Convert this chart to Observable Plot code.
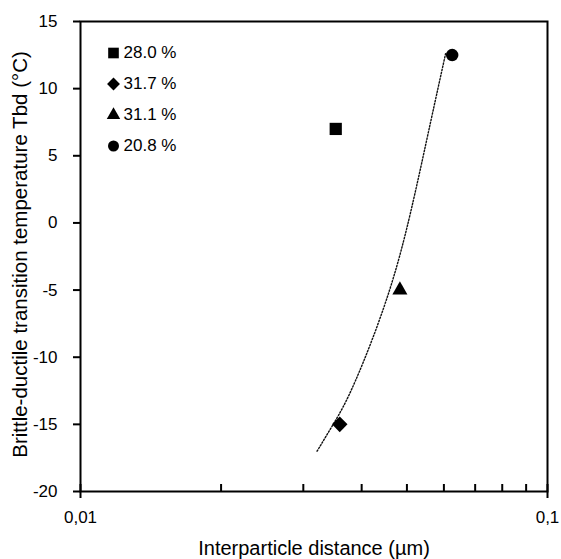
<!DOCTYPE html>
<html>
<head>
<meta charset="utf-8">
<script src="https://cdn.jsdelivr.net/npm/d3@7"></script>
<script src="https://cdn.jsdelivr.net/npm/@observablehq/plot@0.6"></script>
<style>
  html, body { margin: 0; padding: 0; background: white; }
</style>
</head>
<body>
<div id="chart"></div>
<script>
// ---- data ----
const seriesLabels = ["28.0 %", "31.7 %", "31.1 %", "20.8 %"];
const seriesSymbols = ["square", "diamond2", "triangle", "circle"];
const pointX = [0.0352, 0.0359, 0.0483, 0.0625];   // interparticle distance (µm)
const pointY = [7, -15, -5, 12.5];                 // Tbd (°C)

const curveX = [0.0321, 0.0349, 0.0388, 0.0459, 0.0516, 0.0555, 0.0605];
const curveY = [-17.0, -14.9, -11.75, -5.0, 1.66, 6.65, 12.6];

const yTicks = [-20, -15, -10, -5, 0, 5, 10, 15];
const xMajorTicks = [0.01, 0.1];
const xMajorLabels = ["0,01", "0,1"];
const xMinorTicks = [0.02, 0.03, 0.04, 0.05, 0.06, 0.07, 0.08, 0.09];

const xTitle = "Interparticle distance (µm)";
const yTitle = "Brittle-ductile transition temperature Tbd (°C)";

// ---- layout ----
const W = 561, H = 559;
const mL = 80, mR = 14, mT = 21, mB = 68;
const frameH = H - mT - mB;

const points = pointX.map((x, i) => ({x, y: pointY[i], symbol: seriesSymbols[i], label: seriesLabels[i]}));
const curve = curveX.map((x, i) => ({x, y: curveY[i]}));

// symbol radii (plot markers vs legend markers)
const plotR = {square: 6.9, diamond2: 7.0, triangle: 5.6, circle: 6.25};
const legR = {square: 6.0, diamond2: 5.8, triangle: 5.0, circle: 5.5};

const marks = [
  Plot.frame({stroke: "black", strokeWidth: 2}),
  Plot.line(curve, {x: "x", y: "y", curve: "natural", stroke: "#111", strokeWidth: 1.4, strokeDasharray: "1.4,1.8"}),
  // x minor ticks (inward)
  Plot.tickX(xMinorTicks, {x: d => d, insetTop: frameH - 7, stroke: "black", strokeWidth: 2}),
  Plot.axisX(xMajorTicks, {
    tickSize: 7, tickPadding: 12, strokeWidth: 2, fontSize: 17,
    tickFormat: d => xMajorLabels[xMajorTicks.indexOf(d)], label: null
  }),
  Plot.tickX(xMajorTicks, {x: d => d, insetTop: frameH - 7, stroke: "black", strokeWidth: 2}),
  Plot.axisY(yTicks, {
    tickSize: 7, tickPadding: 16, strokeWidth: 2, fontSize: 17,
    tickFormat: d => String(d), label: null
  }),
  Plot.text([xTitle], {frameAnchor: "bottom", dy: 57, fontSize: 20, lineAnchor: "middle", textAnchor: "middle", fill: "black"}),
  Plot.text([yTitle], {frameAnchor: "left", rotate: -90, dx: -60, dy: -2, fontSize: 20.5, lineAnchor: "middle", textAnchor: "middle", fill: "black"})
];

points.forEach((p, i) => {
  marks.push(Plot.dot([p], {x: "x", y: "y", symbol: () => p.symbol, r: plotR[p.symbol], fill: "black", stroke: "none"}));
  // legend entry
  marks.push(Plot.dot([p], {frameAnchor: "top-left", dx: 33, dy: 31.5 + 31 * i, symbol: () => p.symbol, r: legR[p.symbol], fill: "black", stroke: "none"}));
  marks.push(Plot.text([p], {frameAnchor: "top-left", dx: 43, dy: 31.5 + 31 * i, text: "label", textAnchor: "start", lineAnchor: "middle", fontSize: 17, fill: "black"}));
});

const chart = Plot.plot({
  width: W, height: H,
  marginLeft: mL, marginRight: mR, marginTop: mT, marginBottom: mB,
  x: {type: "log", domain: [0.01, 0.1]},
  y: {domain: [-20, 15]},
  symbol: {type: "identity"},
  style: {fontFamily: "'Liberation Sans', Arial, sans-serif", fontSize: "17px", background: "white", color: "black"},
  marks
});
document.getElementById("chart").appendChild(chart);
</script>
</body>
</html>
